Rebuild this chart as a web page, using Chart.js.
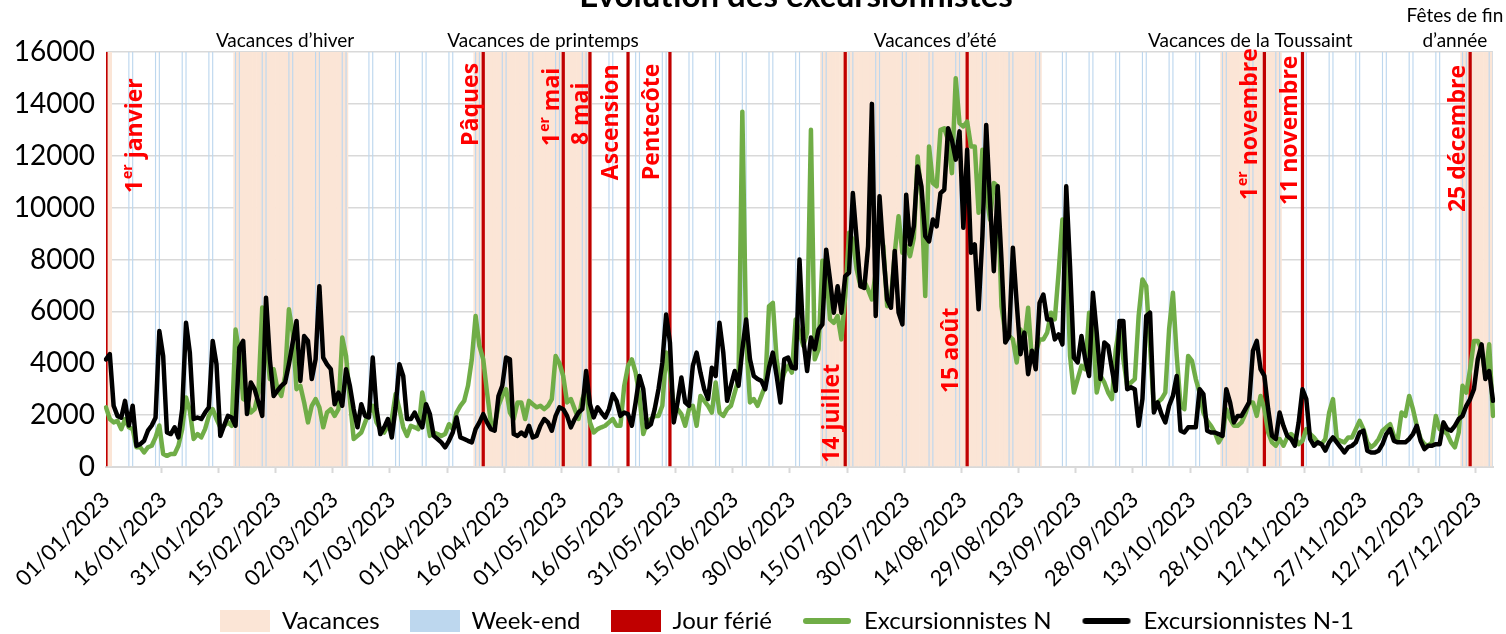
<!DOCTYPE html>
<html lang="fr">
<head>
<meta charset="utf-8">
<title>Évolution des excursionnistes</title>
<script src="https://cdn.jsdelivr.net/npm/chart.js@4.4.1/dist/chart.umd.min.js"></script>
<style>
  html, body { margin: 0; padding: 0; background: #fff; }
</style>
</head>
<body>
<canvas id="chart" width="1506" height="634"></canvas>
<script>
// Données journalières 2023 (index 0 = 01/01/2023)
const excursionnistesN = [
  2300, 1850, 1720, 1780, 1460, 1850, 1530, 1460, 760, 760,
  560, 760, 820, 1140, 1600, 500, 430, 500, 500, 820,
  1460, 2680, 2170, 1080, 1270, 1140, 1460, 1970, 2230, 1850,
  1530, 1590, 1720, 1590, 5300, 4350, 2620, 2550, 2100, 2230,
  2870, 6150, 4920, 3390, 3770, 3000, 2740, 3510, 6080, 5180,
  3000, 3130, 2490, 1720, 2360, 2620, 2300, 1530, 2100, 2230,
  1970, 2230, 4990, 4280, 2620, 1080, 1200, 1330, 1720, 2100,
  2360, 1720, 1460, 1330, 1590, 1850, 2810, 2230, 1530, 1200,
  1590, 1530, 1460, 2870, 2100, 1200, 1330, 1270, 1200, 1270,
  1650, 1460, 2100, 2360, 2550, 3130, 4150, 5820, 4670, 4150,
  2870, 1720, 1590, 2360, 2740, 3000, 2100, 1850, 2490, 2490,
  1850, 2550, 2420, 2300, 2360, 2230, 2360, 2620, 4280, 4000,
  3500, 2490, 2620, 2230, 1850, 2620, 3000, 1720, 1330, 1460,
  1530, 1590, 1720, 1850, 1590, 1590, 3130, 3900, 4150, 3640,
  2740, 1270, 1720, 1850, 1970, 1970, 2360, 4410, 3640, 2360,
  2230, 2040, 1590, 2230, 2360, 1590, 2740, 2550, 2360, 2100,
  3260, 2100, 1970, 2230, 2360, 2870, 3390, 13700, 4920, 2490,
  2620, 2360, 2740, 3130, 6200, 6330, 4150, 3130, 3640, 3900,
  3640, 5690, 5180, 4670, 5180, 13000, 4150, 4540, 7950, 7620,
  5690, 5560, 5820, 4920, 6590, 9030, 8770, 7620, 6970, 7170,
  6840, 6460, 7490, 9280, 8510, 6200, 6460, 8260, 9670, 8260,
  8510, 8130, 8830, 11970, 10440, 6590, 12360, 10950, 10820, 13000,
  13060, 12600, 11330, 14990, 13250, 13130, 13320, 12360, 12360, 9800,
  12230, 10560, 9540, 10950, 10820, 6200, 5180, 5050, 4920, 4030,
  5300, 4800, 6140, 4150, 4410, 4920, 4920, 5180, 5950, 5690,
  7490, 9540, 8770, 4280, 2870, 3390, 3900, 3770, 5950, 5310,
  2870, 3510, 3260, 2870, 2620, 4540, 5440, 4150, 3130, 3260,
  3390, 5820, 7230, 6970, 4670, 2230, 2490, 2620, 2870, 5310,
  6720, 4280, 2360, 2230, 4280, 4090, 3390, 2870, 2100, 1780,
  1590, 1330, 950, 1200, 2230, 1850, 1590, 1590, 1720, 2040,
  2490, 2490, 1970, 2740, 2230, 1330, 950, 820, 1080, 820,
  1140, 1270, 1140, 880, 1010, 1460, 1270, 1140, 950, 880,
  1080, 2100, 2620, 1080, 1010, 950, 1140, 1140, 1460, 1780,
  1460, 950, 760, 880, 1080, 1400, 1530, 1650, 1200, 1080,
  2100, 1970, 2740, 2230, 1590, 1080, 880, 820, 950, 1970,
  1460, 1400, 1270, 950, 760, 1330, 3130, 2870, 3770, 4860,
  4860, 4540, 3510, 4730, 1970
];

const excursionnistesN1 = [
  4150, 4350, 2360, 1970, 1900, 2550, 1600, 2360, 820, 880,
  1010, 1400, 1600, 1900, 5240, 4280, 1330, 1270, 1530, 1140,
  2230, 5560, 4410, 1850, 1910, 1850, 2100, 2300, 4860, 3960,
  1200, 1600, 1970, 1910, 1590, 4600, 4860, 2040, 3260, 3000,
  2490, 1970, 6530, 4150, 2740, 2940, 3130, 3260, 3960, 4800,
  5630, 3320, 5050, 4860, 3390, 4150, 6970, 4220, 3960, 3770,
  2420, 2870, 2360, 3770, 3130, 2230, 1530, 2420, 1970, 1910,
  4220, 2230, 1270, 1530, 1850, 1140, 2300, 3960, 3510, 1850,
  1850, 2100, 1780, 1530, 2420, 2040, 1200, 1080, 950, 760,
  1010, 1330, 1910, 1140, 1080, 1010, 950, 1460, 1720, 2040,
  1720, 1460, 1400, 2740, 3130, 4220, 4150, 1270, 1200, 1330,
  1200, 1590, 1140, 1200, 1590, 1850, 1720, 1400, 1970, 2300,
  2230, 1970, 1530, 1850, 2100, 2230, 3700, 2420, 1910, 2300,
  2100, 1910, 2230, 2810, 2550, 1970, 2100, 2040, 1590, 2490,
  3510, 3000, 1530, 1650, 2230, 3000, 4030, 5880, 4800, 1720,
  2490, 3450, 2490, 2360, 3900, 4410, 3640, 3000, 2620, 3830,
  3510, 5560, 4410, 2550, 3130, 3700, 3130, 4540, 5690, 4150,
  3510, 3390, 3320, 3000, 3830, 4410, 3510, 2490, 4150, 4220,
  3830, 3800, 8000, 4920, 3700, 4990, 4540, 5300, 5500, 8380,
  7230, 5950, 6970, 5950, 7360, 7490, 10560, 8770, 6970, 6900,
  8510, 14000, 5820, 10440, 8260, 6460, 6140, 8330, 5950, 5500,
  10500, 8580, 9280, 11590, 10820, 8900, 8700, 9540, 9280, 10560,
  10690, 13060, 12600, 11850, 12940, 9220, 12230, 8260, 8580, 6080,
  8900, 13190, 10230, 7550, 10820, 8000, 4800, 5050, 8450, 6330,
  4350, 5180, 3580, 4480, 3770, 6330, 6650, 5690, 5690, 4920,
  5110, 4730, 10820, 7750, 4220, 4030, 5050, 4150, 3510, 6720,
  5180, 3390, 4800, 4670, 3770, 2940, 5630, 5630, 3000, 3070,
  3000, 1590, 2620, 5820, 5950, 2100, 2490, 2040, 1720, 2360,
  2740, 3510, 1400, 1330, 1530, 1530, 1530, 3000, 2810, 1400,
  1330, 1330, 1270, 1200, 3000, 2490, 1720, 1970, 1970, 2230,
  2490, 4480, 4860, 3770, 3510, 2230, 1200, 1080, 2100, 1590,
  1200, 1080, 820, 1720, 3000, 2620, 1080, 820, 950, 880,
  630, 950, 1140, 950, 760, 560, 760, 820, 950, 1330,
  1400, 630, 560, 560, 630, 880, 1270, 1460, 1010, 950,
  950, 950, 1080, 1270, 1590, 1010, 690, 820, 820, 880,
  880, 1720, 1460, 1400, 1590, 1850, 1970, 2360, 2620, 3000,
  4150, 4730, 3390, 3700, 2550
];

// Périodes de vacances (début, fin inclus)
const vacances = [
  ['01/01', '02/01'],
  ['04/02', '05/03'],
  ['08/04', '08/05'],
  ['08/07', '03/09'],
  ['21/10', '05/11'],
  ['23/12', '31/12']
];
const vacancesNoms = ['Vacances d’hiver', 'Vacances de printemps', 'Vacances d’été', 'Vacances de la Toussaint', 'Fêtes de fin|d’année'];

// Jours fériés
const joursFeries = ['01/01', '10/04', '01/05', '08/05', '18/05', '29/05', '14/07', '15/08', '01/11', '11/11', '25/12'];
const joursFeriesNoms = ['1er janvier', 'Pâques', '1er mai', '8 mai', 'Ascension', 'Pentecôte', '14 juillet', '15 août', '1er novembre', '11 novembre', '25 décembre'];

const yTicks = { min: 0, max: 16000, step: 2000 };

// ---- construction
const pad = n => String(n).padStart(2, '0');
const dates = [];
for (let d = new Date(2023, 0, 1); d.getFullYear() === 2023; d.setDate(d.getDate() + 1)) {
  dates.push(new Date(d));
}
const labels = dates.map(d => pad(d.getDate()) + '/' + pad(d.getMonth() + 1) + '/2023');
const idx = s => labels.indexOf(s + '/2023');

const serieVacances = labels.map((l, i) =>
  vacances.some(([a, b]) => i >= idx(a) && i <= idx(b)) ? yTicks.max : null);
const serieWeekend = dates.map(d => (d.getDay() === 0 || d.getDay() === 6) ? yTicks.max : null);
const serieFeries = labels.map((l, i) => joursFeries.some(j => idx(j) === i) ? yTicks.max : null);

// placement des étiquettes (style)
const ferieLabelPos = [
  { dx: 29, y: 10560 }, { dx: -12, y: 12380 }, { dx: -11, y: 12380 }, { dx: -8, y: 12410 },
  { dx: -17, y: 11060 }, { dx: -17, y: 11060 }, { dx: -13, y: 160 }, { dx: -16, y: 2850 },
  { dx: -14, y: 10290 }, { dx: -12, y: 10100 }, { dx: -12, y: 9830 }
];
const vacancesLabelPos = [47, 114.7, 217.6, 300.3, 354];

function legendIcon(type, color) {
  const c = document.createElement('canvas');
  c.width = 50; c.height = 22;
  const g = c.getContext('2d');
  if (type === 'rect') {
    g.fillStyle = color;
    g.fillRect(0, 0, 50, 22);
  } else {
    g.strokeStyle = color;
    g.lineWidth = 6;
    g.lineCap = 'round';
    g.beginPath(); g.moveTo(4, 11); g.lineTo(46, 11); g.stroke();
  }
  return c;
}
const icons = [
  legendIcon('rect', '#fbe5d6'),
  legendIcon('rect', '#bdd7ee'),
  legendIcon('rect', '#c00000'),
  legendIcon('line', '#70ad47'),
  legendIcon('line', '#000000')
];

const labelFont = '"Open Sans"';
function drawLabel(ctx, text, size) {
  ctx.font = 'bold ' + size + 'px ' + labelFont;
  let x = 0;
  if (text.startsWith('1er')) {
    ctx.fillText('1', 0, 0);
    x = ctx.measureText('1').width + 1;
    ctx.font = 'bold ' + Math.round(size * 0.6) + 'px ' + labelFont;
    ctx.fillText('er', x, -size * 0.3);
    x += ctx.measureText('er').width;
    ctx.font = 'bold ' + size + 'px ' + labelFont;
    text = text.slice(3);
  }
  ctx.fillText(text, x, 0);
}

const decorations = {
  id: 'decorations',
  afterLayout(chart) {
    // légende décalée comme dans l'original
    chart.legend.left += 81;
    chart.legend.top = 579;
  },
  afterDatasetsDraw(chart) {
    const { ctx, scales: { x, y } } = chart;
    ctx.save();
    ctx.fillStyle = '#ff0000';
    ctx.textAlign = 'left';
    ctx.textBaseline = 'middle';
    joursFeries.forEach((j, k) => {
      const p = ferieLabelPos[k];
      ctx.save();
      ctx.translate(x.getPixelForValue(idx(j)) + p.dx, y.getPixelForValue(p.y));
      ctx.rotate(-Math.PI / 2);
      drawLabel(ctx, joursFeriesNoms[k], 23);
      ctx.restore();
    });
    ctx.restore();
  },
  afterDraw(chart) {
    const { ctx, scales: { x } } = chart;
    ctx.save();
    ctx.fillStyle = '#000';
    ctx.textAlign = 'center';
    ctx.textBaseline = 'alphabetic';
    ctx.font = 'bold 33px Lato';
    ctx.fillText('Évolution des excursionnistes', 796, 7);
    ctx.font = '19px Lato';
    ctx.textBaseline = 'middle';
    vacancesNoms.forEach((n, k) => {
      const px = x.getPixelForValue(vacancesLabelPos[k]);
      const lines = n.split('|');
      lines.forEach((t, li) => ctx.fillText(t, px, 41 - (lines.length - 1 - li) * 25));
    });
    ctx.restore();
  }
};

const barBase = { type: 'bar', grouped: false, borderWidth: 0, categoryPercentage: 1 };

new Chart(document.getElementById('chart'), {
  type: 'bar',
  data: {
    labels: labels,
    datasets: [
      { ...barBase, label: 'Vacances', data: serieVacances, backgroundColor: '#fbe5d6', barPercentage: 1.15, order: 4 },
      { ...barBase, label: 'Week-end', data: serieWeekend, backgroundColor: '#bdd7ee', barPercentage: 0.3, order: 3 },
      { ...barBase, label: 'Jour férié', data: serieFeries, backgroundColor: '#c00000', barPercentage: 0.85, order: 2 },
      { type: 'line', label: 'Excursionnistes N', data: excursionnistesN, borderColor: '#70ad47', backgroundColor: '#70ad47',
        borderWidth: 4.5, pointRadius: 0, tension: 0, borderJoinStyle: 'round', borderCapStyle: 'round', order: 1 },
      { type: 'line', label: 'Excursionnistes N-1', data: excursionnistesN1, borderColor: '#000000', backgroundColor: '#000000',
        borderWidth: 4.5, pointRadius: 0, tension: 0, borderJoinStyle: 'round', borderCapStyle: 'round', order: 0 }
    ]
  },
  options: {
    responsive: false,
    animation: false,
    devicePixelRatio: 1,
    layout: { padding: { top: 52, right: 13, left: 0, bottom: 0 } },
    plugins: {
      title: { display: false },
      tooltip: { enabled: false },
      legend: {
        position: 'bottom',
        maxHeight: 39,
        labels: {
          usePointStyle: true,
          pointStyleWidth: 50,
          padding: 30,
          color: '#000',
          font: { family: 'Lato', size: 24 },
          generateLabels: chart => chart.data.datasets.map((ds, i) => ({
            text: ds.label, pointStyle: icons[i], datasetIndex: i, hidden: false,
            fillStyle: 'transparent', strokeStyle: 'transparent', lineWidth: 0, fontColor: '#000'
          }))
        }
      }
    },
    scales: {
      x: {
        offset: false,
        afterFit: s => { s.height = 128; s.paddingLeft = 0; s.paddingRight = 0; },
        grid: {
          drawOnChartArea: false, drawTicks: true, tickLength: 6, tickWidth: 2,
          tickColor: c => (c.index % 15 === 0 ? '#d9d9d9' : 'rgba(0,0,0,0)')
        },
        border: { display: true, color: '#d9d9d9', width: 2 },
        ticks: {
          autoSkip: false, minRotation: 45, maxRotation: 45, padding: 14,
          color: '#000', font: { family: 'Lato', size: 22 },
          callback: function (v, i) { return i % 15 === 0 ? this.getLabelForValue(v) : ''; }
        }
      },
      y: {
        min: yTicks.min, max: yTicks.max,
        afterFit: s => { s.width = 106; },
        grid: { color: '#d9d9d9', lineWidth: 1.5, drawTicks: false },
        border: { display: false },
        ticks: { stepSize: yTicks.step, padding: 11, color: '#000', font: { family: 'Lato', size: 28 },
          callback: v => String(v) }
      }
    }
  },
  plugins: [decorations]
});
</script>
</body>
</html>
